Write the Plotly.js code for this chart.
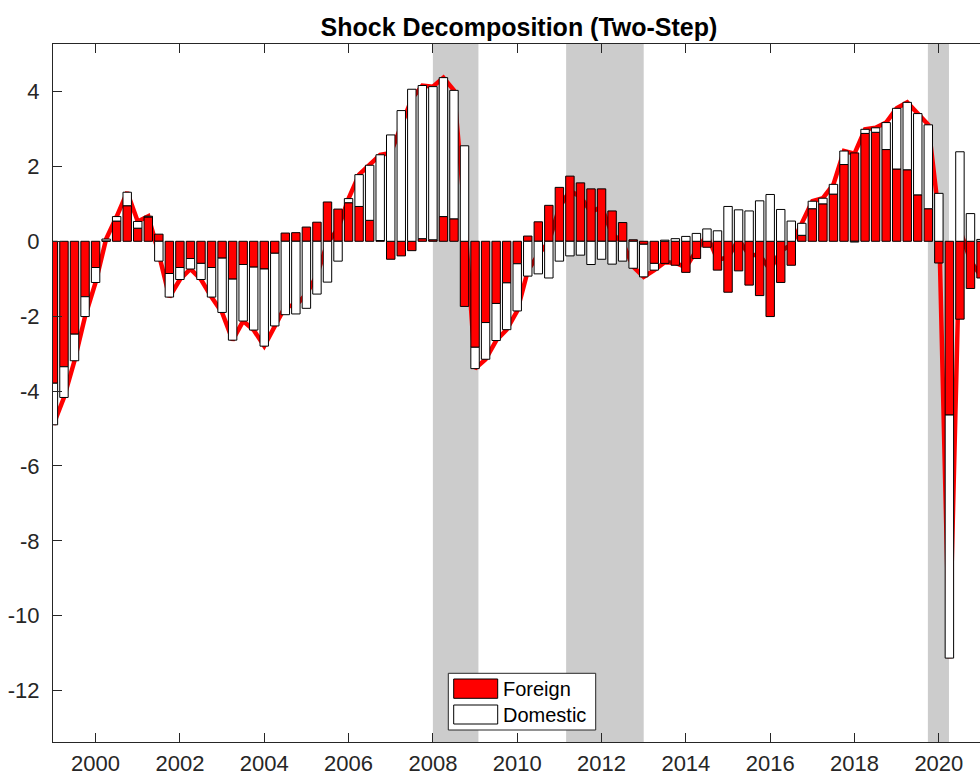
<!DOCTYPE html>
<html>
<head>
<meta charset="utf-8">
<script src="https://cdn.plot.ly/plotly-3.0.1.min.js"></script>
<style>
  html, body { margin: 0; padding: 0; background: #ffffff; }
  #chart { width: 980px; height: 776px; }
</style>
</head>
<body>
<div id="chart"></div>
<script>
// ---- Data ----
// Quarters 1999Q1 .. 2021Q1
const quarters = [];
for (let y = 1999; y <= 2021; y++) {
  for (let q = 1; q <= 4; q++) {
    if (y === 2021 && q > 1) break;
    quarters.push(y + 'Q' + q);
  }
}

const foreign = [
  -3.79, -3.35, -2.48, -1.48,
  -0.70,  0.01,  0.54,  0.95,
   0.35,  0.65,  0.19, -0.86,
  -0.70, -0.46, -0.59, -0.70,
  -0.45, -1.01, -0.62, -0.69,
  -0.74, -0.32,  0.22,  0.23,
   0.38,  0.51,  1.05,  0.86,
   1.03,  0.93,  0.56,  0.02,
  -0.48, -0.39, -0.25,  0.07,
   0.04,  0.66,  0.60, -1.74,
  -2.83, -2.17, -1.66, -1.11,
  -0.60,  0.14,  0.52,  0.96,
   1.44,  1.74,  1.56,  1.40,
   1.40,  0.81,  0.50,  0.04,
  -0.08, -0.59, -0.59, -0.64,
  -0.83, -0.46, -0.16, -0.77,
  -1.36, -0.79, -1.17, -1.45,
  -2.01, -1.10, -0.64,  0.16,
   0.87,  1.00,  1.26,  2.05,
   2.36,  2.88,  2.91,  2.45,
   1.93,  1.91,  1.24,  0.87,
  -0.58, -4.64, -2.08, -1.26,
  -0.98
];

const domestic = [
  -1.11, -0.82, -0.71, -0.53,
  -0.40,  0.05,  0.12,  0.36,
   0.18,  0.02, -0.53, -0.63,
  -0.32, -0.28, -0.43, -0.79,
  -1.45, -1.63, -1.51, -1.68,
  -2.06, -1.94, -1.96, -1.94,
  -1.79, -1.41, -1.09, -0.53,
   0.11,  0.85,  1.47,  2.29,
   2.84,  3.49,  4.06,  4.09,
   4.09,  3.71,  3.43,  2.55,
  -0.57, -0.98, -0.99, -1.25,
  -1.26, -0.93, -0.87, -0.98,
  -0.53, -0.39, -0.37, -0.62,
  -0.48, -0.61, -0.53, -0.72,
  -0.87, -0.18,  0.03,  0.07,
   0.13,  0.21,  0.33,  0.28,
   0.93,  0.84,  0.81,  1.08,
   1.25,  0.85,  0.54,  0.32,
   0.20,  0.15,  0.26,  0.36,
  -0.02,  0.11,  0.12,  0.72,
   1.62,  1.80,  2.17,  2.24,
   1.28, -6.49,  2.39,  0.74,
   0.05
];

// total (red line)
const total = [
  -4.90, -4.17, -3.19, -2.01,
  -1.10,  0.06,  0.66,  1.31,
   0.53,  0.67, -0.34, -1.49,
  -1.02, -0.74, -1.02, -1.49,
  -1.90, -2.64, -2.13, -2.37,
  -2.80, -2.26, -1.74, -1.71,
  -1.41, -0.90, -0.04,  0.33,
   1.14,  1.78,  2.03,  2.31,
   2.36,  3.10,  3.81,  4.16,
   4.13,  4.37,  4.03,  0.81,
  -3.40, -3.15, -2.65, -2.36,
  -1.86, -0.79, -0.35, -0.02,
   0.91,  1.35,  1.19,  0.78,
   0.92,  0.20, -0.03, -0.68,
  -0.95, -0.77, -0.56, -0.57,
  -0.70, -0.25,  0.17, -0.49,
  -0.43,  0.05, -0.36, -0.37,
  -0.76, -0.25, -0.10,  0.48,
   1.07,  1.15,  1.52,  2.41,
   2.34,  2.99,  3.03,  3.17,
   3.55,  3.71,  3.41,  3.11,
   0.70, -11.13, 0.31, -0.52,
  -0.93
];

// shaded periods (decimal years)
const recessionStart = [2008.00, 2011.16, 2019.74];
const recessionEnd   = [2009.08, 2013.00, 2020.24];

const xTickVals = [2000, 2002, 2004, 2006, 2008, 2010, 2012, 2014, 2016, 2018, 2020];
const xTickText = ['2000', '2002', '2004', '2006', '2008', '2010', '2012', '2014', '2016', '2018', '2020'];
const yTickVals = [-12, -10, -8, -6, -4, -2, 0, 2, 4];
const yTickText = ['-12', '-10', '-8', '-6', '-4', '-2', '0', '2', '4'];

const seriesNames = ['Foreign', 'Domestic'];

// ---- convert quarter labels to decimal years ----
const xs = quarters.map(s => {
  const y = parseInt(s.slice(0, 4), 10);
  const q = parseInt(s.slice(5), 10);
  return y + (q - 1) / 4;
});

// ---- layout geometry ----
const W = 980, H = 776;
const M = { l: 53, r: 0, t: 44, b: 34 };
const plotW = W - M.l - M.r;
const plotH = H - M.t - M.b;
const px = x => (x - M.l) / plotW;
const py = y => (H - M.b - y) / plotH;

const xRange = [1998.99, 2020.976];
const yRange = [-13.37, 5.268];

const FONT = '"Liberation Sans", Arial, Helvetica, sans-serif';
const AX = '#262626';

const traces = [
  {
    type: 'scatter', mode: 'lines',
    x: xs, y: total,
    xaxis: 'x', yaxis: 'y',
    line: { color: '#ff0000', width: 4.5 },
    showlegend: false, hoverinfo: 'skip'
  },
  {
    type: 'bar', name: seriesNames[0],
    x: xs, y: foreign, width: 0.2,
    xaxis: 'x2', yaxis: 'y2',
    marker: { color: '#ff0000', line: { color: '#000000', width: 1 } },
    showlegend: false
  },
  {
    type: 'bar', name: seriesNames[1],
    x: xs, y: domestic, width: 0.2,
    xaxis: 'x2', yaxis: 'y2',
    marker: { color: '#ffffff', line: { color: '#000000', width: 1 } },
    showlegend: false
  }
];

const shapes = recessionStart.map((s, i) => ({
  type: 'rect', xref: 'x', yref: 'paper',
  x0: s, x1: recessionEnd[i], y0: 0, y1: 1,
  fillcolor: '#cccccc', line: { width: 0 }, layer: 'below'
}));

// manual legend (box + patches)
shapes.push(
  { type: 'rect', xref: 'paper', yref: 'paper', layer: 'above',
    x0: px(448.3), x1: px(595.7), y0: py(730), y1: py(673.3),
    fillcolor: '#ffffff', line: { color: AX, width: 1 } },
  { type: 'rect', xref: 'paper', yref: 'paper', layer: 'above',
    x0: px(453.7), x1: px(497.7), y0: py(698.3), y1: py(679),
    fillcolor: '#ff0000', line: { color: '#000000', width: 1 } },
  { type: 'rect', xref: 'paper', yref: 'paper', layer: 'above',
    x0: px(453.7), x1: px(497.7), y0: py(724), y1: py(705),
    fillcolor: '#ffffff', line: { color: '#000000', width: 1 } }
);

const annotations = [
  { xref: 'paper', yref: 'paper', x: px(500.5), y: py(688.7), xanchor: 'left', yanchor: 'middle',
    text: seriesNames[0], showarrow: false, font: { family: FONT, size: 20, color: '#000000' } },
  { xref: 'paper', yref: 'paper', x: px(500.5), y: py(714.5), xanchor: 'left', yanchor: 'middle',
    text: seriesNames[1], showarrow: false, font: { family: FONT, size: 20, color: '#000000' } }
];

const layout = {
  width: W, height: H,
  margin: { l: M.l, r: M.r, t: M.t, b: M.b, pad: 0 },
  paper_bgcolor: '#ffffff', plot_bgcolor: '#ffffff',
  barmode: 'relative',
  bargap: 0,
  showlegend: false,
  font: { family: FONT, color: AX },
  title: {
    text: 'Shock Decomposition (Two-Step)',
    font: { family: FONT, size: 25, weight: 'bold', color: '#000000' },
    xref: 'paper', x: px(519), xanchor: 'center',
    yref: 'container', y: 1 - 27 / H, yanchor: 'middle'
  },
  xaxis: {
    range: xRange, tickmode: 'array', tickvals: xTickVals, ticktext: xTickText,
    ticks: 'inside', ticklen: 9, tickwidth: 1, tickcolor: AX,
    showline: true, linecolor: AX, linewidth: 1, mirror: 'ticks',
    showgrid: false, zeroline: false,
    tickfont: { family: FONT, size: 22, color: AX },
    ticklabelstandoff: 2
  },
  yaxis: {
    range: yRange, tickmode: 'array', tickvals: yTickVals, ticktext: yTickText,
    ticks: 'inside', ticklen: 9, tickwidth: 1, tickcolor: AX,
    showline: true, linecolor: AX, linewidth: 1, mirror: false,
    showgrid: false, zeroline: false,
    tickfont: { family: FONT, size: 22, color: AX },
    ticklabelstandoff: 8
  },
  xaxis2: { overlaying: 'x', range: xRange, visible: false },
  yaxis2: { overlaying: 'y', range: yRange, visible: false },
  shapes: shapes,
  annotations: annotations
};

Plotly.newPlot('chart', traces, layout, { displayModeBar: false, staticPlot: true });
</script>
</body>
</html>
